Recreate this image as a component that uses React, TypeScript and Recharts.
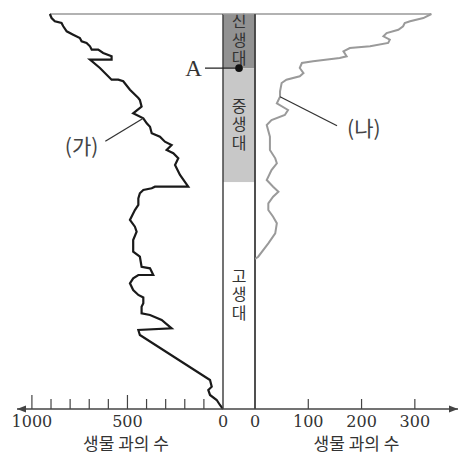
import React from "react";
import {
  LineChart,
  Line,
  XAxis,
  YAxis,
  ReferenceLine,
  ReferenceDot,
  ReferenceArea,
} from "recharts";

// time runs downward from the present (0) to the base of the column
const timeLeft = [
  0, 5.5, 10, 12.3, 16.8, 23.7, 28.3, 32.8, 37.3, 39.6, 44.2, 48.8, 48.8, 53.3, 57.8, 62.5, 62.5, 73.8,
  89.8, 89.8, 92, 103.5, 114.8, 117.6, 126.7, 135.8, 142.6, 149.4, 154.1, 163.1, 167.7, 174.6, 179.1,
  185.9, 190.4, 197.3, 206.4, 220.1, 236.1, 236.1, 238.3, 240.6, 245.1, 252, 261.1, 268, 281.6, 290.8,
  297.6, 309, 325, 331.8, 345.5, 347.7, 356.8, 356.8, 361.3, 368.2, 377.3, 384.1, 387.6, 395.5, 400.1,
  409.2, 411.5, 418.3, 429.7, 432, 438.8, 500.4, 509.5, 514, 520.8, 527.7, 534.5, 540,
];
const familiesLeft = [
  906, 897, 880, 845, 836, 818, 784, 749, 740, 714, 696, 687, 653, 627, 583, 583, 696, 644,
  583, 548, 522, 487, 443, 435, 426, 470, 417, 399, 382, 373, 330, 304, 269,
  295, 260, 234, 251, 225, 182, 356, 373, 417, 435, 443, 443, 461, 487, 461,
  452, 470, 470, 435, 426, 382, 365, 443, 470, 487, 470, 443, 417, 417, 426,
  426, 382, 321, 269, 443, 435, 68, 59, 77, 68, 33, 16, 0,
];

const timeRight = [
  0, 5.5, 10, 12.3, 16.8, 21.5, 26, 30.5, 35.1, 39.6, 44.2, 46.5, 51, 57.8, 60.2, 64.7, 67, 73.8,
  80.7, 85.2, 89.8, 94.3, 105.7, 113.1, 122.1, 131.2, 138.1, 144.9, 151.7, 167.7, 185.9, 197.3,
  204.1, 213.3, 226.9, 236.1, 242.9, 249.8, 258.8, 268, 277.1, 286.1, 299.8, 313.5, 331.8, 335,
];
const familiesRight = [
  331, 316, 291, 281, 278, 269, 247, 241, 253, 250, 216, 178, 166, 172, 159, 109, 88, 84,
  91, 84, 59, 50, 47, 47, 41, 62, 56, 31, 22, 28, 28, 38,
  41, 31, 22, 34, 44, 34, 25, 25, 34, 41, 38, 25, 6, 0,
];

const eraNames = ["신생대", "중생대", "고생대"];
const eraStart = [0, 74, 230];
const eraEnd = [74, 230, 540];

const leftTicks = [0, 100, 200, 300, 400, 500, 600, 700, 800, 900, 1000];
const leftLabeled = [0, 500, 1000];
const rightTicks = [0, 100, 200, 300];

const leftData = timeLeft.map((t, i) => ({ t, v: familiesLeft[i] }));
const rightData = timeRight.map((t, i) => ({ t, v: familiesRight[i] }));
const eraData = [...eraStart, eraEnd[eraEnd.length - 1]].map((t) => ({ t, v: 0.5 }));

const TIME_MAX = 540;
const LEFT_MAX = 1078;
const RIGHT_MAX = 381;
const AXIS = "#444";
const ERA_FILL = ["#929292", "#c8c8c8", "#ffffff"];
const NUM_FONT = "DejaVu Serif";
const KR_FONT = "Noto Sans CJK KR";

function leftTick(props: any) {
  const { x, y, payload } = props;
  const v = payload.value;
  const major = leftLabeled.includes(v);
  return (
    <g>
      {v !== 0 && (
        <line x1={x} x2={x} y1={y} y2={y - (major ? 14 : 10)} stroke={AXIS} strokeWidth={1.2} />
      )}
      {major && (
        <text x={x} y={y + 18} textAnchor="middle" fontFamily={NUM_FONT} fontSize={16} fill="#333">
          {v}
        </text>
      )}
    </g>
  );
}

function rightTick(props: any) {
  const { x, y, payload } = props;
  const v = payload.value;
  return (
    <g>
      {v !== 0 && <line x1={x} x2={x} y1={y} y2={y - 10} stroke={AXIS} strokeWidth={1.2} />}
      <text x={x} y={y + 18} textAnchor="middle" fontFamily={NUM_FONT} fontSize={16} fill="#333">
        {v}
      </text>
    </g>
  );
}

const axisTitle = (shift: number) => (props: any) => {
  const vb = props.viewBox;
  return (
    <text
      x={vb.x + vb.width / 2 + shift}
      y={vb.y + 41}
      textAnchor="middle"
      fontFamily={KR_FONT}
      fontSize={17}
      fill="#333"
    >
      생물 과의 수
    </text>
  );
};

// era names are written top to bottom inside the column
const eraLabel = (name: string) => (props: any) => {
  const vb = props.viewBox;
  const cx = vb.x + vb.width / 2;
  const cy = vb.y + vb.height / 2;
  return (
    <text
      x={cx}
      y={cy}
      textAnchor="middle"
      fontFamily={KR_FONT}
      fontSize={16}
      letterSpacing={2.5}
      fill="#333"
      style={{ writingMode: "vertical-rl", textOrientation: "upright" } as any}
    >
      {name}
    </text>
  );
};

const arrow = (dir: number) => (props: any) => {
  const { cx, cy } = props;
  return (
    <polygon
      points={`${cx},${cy} ${cx - dir * 9},${cy - 3.5} ${cx - dir * 9},${cy + 3.5}`}
      fill={AXIS}
    />
  );
};

export default function App() {
  const H = 455;
  const top = 14;
  const axisH = 46;
  return (
    <div
      style={{
        position: "absolute",
        left: 0,
        top: 0,
        width: 461,
        height: H,
        background: "#fff",
        fontFamily: KR_FONT,
      }}
    >
      {/* (가) */}
      <div style={{ position: "absolute", left: 0, top: 0 }}>
        <LineChart
          width={234}
          height={H}
          data={leftData}
          layout="vertical"
          margin={{ top, right: 11, bottom: 0, left: 17 }}
        >
          <XAxis
            type="number"
            domain={[0, LEFT_MAX]}
            allowDataOverflow
            reversed
            ticks={leftTicks}
            interval={0}
            tick={leftTick}
            tickLine={false}
            tickSize={0}
            tickMargin={0}
            height={axisH}
            axisLine={{ stroke: AXIS, strokeWidth: 1.5 }}
            label={{ content: axisTitle(6) }}
          />
          <YAxis type="number" dataKey="t" domain={[0, TIME_MAX]} hide />
          <ReferenceLine
            segment={[
              { x: familiesLeft[0], y: 0 },
              { x: 0, y: 0 },
            ]}
            stroke="#999"
            strokeWidth={1.5}
          />
          <Line
            dataKey="v"
            type="linear"
            stroke="#1a1a1a"
            strokeWidth={2.2}
            dot={false}
            isAnimationActive={false}
          />
          <ReferenceDot
            x={familiesLeft[26]}
            y={timeLeft[26]}
            r={0}
            ifOverflow="visible"
            shape={(p: any) => (
              <g>
                <line x1={p.cx} y1={p.cy} x2={p.cx - 38} y2={p.cy + 23} stroke="#333" strokeWidth={1.3} />
                <text
                  x={p.cx - 45}
                  y={p.cy + 27}
                  textAnchor="end"
                  dominantBaseline="central"
                  fontFamily={KR_FONT}
                  fontSize={21}
                  fill="#444"
                >
                  (가)
                </text>
              </g>
            )}
          />
          <ReferenceDot x={LEFT_MAX} y={TIME_MAX} r={0} ifOverflow="visible" shape={arrow(-1)} />
        </LineChart>
      </div>

      {/* era column */}
      <div style={{ position: "absolute", left: 160, top: 0 }}>
        <LineChart
          width={120}
          height={H}
          data={eraData}
          layout="vertical"
          margin={{ top, right: 25, bottom: 0, left: 63 }}
        >
          <XAxis
            type="number"
            domain={[0, 1]}
            allowDataOverflow
            tick={false}
            tickLine={false}
            height={axisH}
            axisLine={{ stroke: AXIS, strokeWidth: 1.5 }}
          />
          <YAxis type="number" dataKey="t" domain={[0, TIME_MAX]} hide />
          {eraNames.map((name, i) => (
            <ReferenceArea
              key={name}
              x1={0}
              x2={1}
              y1={eraStart[i]}
              y2={eraEnd[i]}
              fill={ERA_FILL[i]}
              fillOpacity={1}
              stroke="none"
              ifOverflow="visible"
              label={{ content: eraLabel(name) }}
            />
          ))}
          <Line
            dataKey="v"
            type="linear"
            stroke="none"
            dot={false}
            activeDot={false}
            isAnimationActive={false}
          />
          <ReferenceLine x={0} stroke={AXIS} strokeWidth={1.5} ifOverflow="visible" />
          <ReferenceLine x={1} stroke={AXIS} strokeWidth={1.5} ifOverflow="visible" />
          <ReferenceLine y={0} stroke="#999" strokeWidth={1.5} ifOverflow="visible" />
          <ReferenceDot
            x={0.5}
            y={eraStart[1]}
            r={0}
            ifOverflow="visible"
            shape={(p: any) => (
              <g>
                <line x1={p.cx - 34} y1={p.cy} x2={p.cx} y2={p.cy} stroke="#222" strokeWidth={1.3} />
                <circle cx={p.cx} cy={p.cy} r={3.8} fill="#111" />
                <text
                  x={p.cx - 45.5}
                  y={p.cy + 7.5}
                  textAnchor="middle"
                  fontFamily="Liberation Serif"
                  fontSize={23}
                  fill="#333"
                >
                  A
                </text>
              </g>
            )}
          />
        </LineChart>
      </div>

      {/* (나) */}
      <div style={{ position: "absolute", left: 245, top: 0 }}>
        <LineChart
          width={216}
          height={H}
          data={rightData}
          layout="vertical"
          margin={{ top, right: 3, bottom: 0, left: 10 }}
        >
          <XAxis
            type="number"
            domain={[0, RIGHT_MAX]}
            allowDataOverflow
            ticks={rightTicks}
            interval={0}
            tick={rightTick}
            tickLine={false}
            tickSize={0}
            tickMargin={0}
            height={axisH}
            axisLine={{ stroke: AXIS, strokeWidth: 1.5 }}
            label={{ content: axisTitle(0) }}
          />
          <YAxis type="number" dataKey="t" domain={[0, TIME_MAX]} hide />
          <ReferenceLine
            segment={[
              { x: 0, y: 0 },
              { x: familiesRight[0], y: 0 },
            ]}
            stroke="#999"
            strokeWidth={1.5}
          />
          <ReferenceLine x={0} stroke={AXIS} strokeWidth={1.5} />
          <Line
            dataKey="v"
            type="linear"
            stroke="#9a9a9a"
            strokeWidth={2}
            dot={false}
            isAnimationActive={false}
          />
          <ReferenceDot
            x={familiesRight[23]}
            y={timeRight[23]}
            r={0}
            ifOverflow="visible"
            shape={(p: any) => (
              <g>
                <line x1={p.cx} y1={p.cy} x2={p.cx + 57} y2={p.cy + 29} stroke="#333" strokeWidth={1.3} />
                <text
                  x={p.cx + 67}
                  y={p.cy + 30}
                  textAnchor="start"
                  dominantBaseline="central"
                  fontFamily={KR_FONT}
                  fontSize={21}
                  fill="#444"
                >
                  (나)
                </text>
              </g>
            )}
          />
          <ReferenceDot x={RIGHT_MAX} y={TIME_MAX} r={0} ifOverflow="visible" shape={arrow(1)} />
        </LineChart>
      </div>
    </div>
  );
}
